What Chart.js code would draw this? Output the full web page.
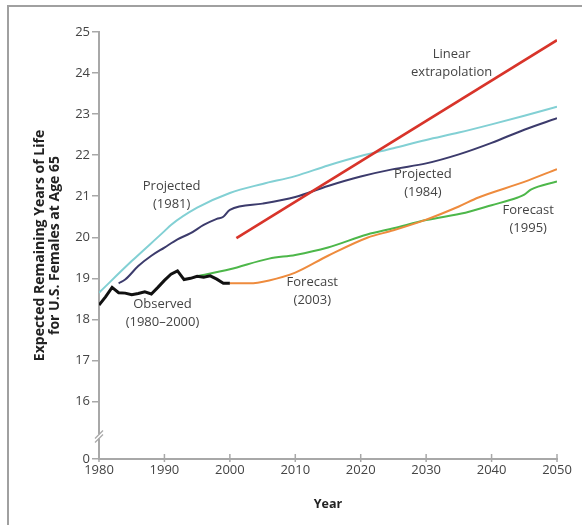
<!DOCTYPE html>
<html>
<head>
<meta charset="utf-8">
<script src="https://cdn.jsdelivr.net/npm/chart.js@4"></script>
<style>
  html, body { margin: 0; padding: 0; background: #fff; }
  #wrap { position: relative; width: 582px; height: 525px; }
  #frame { position: absolute; left: 7px; top: 5px; right: 0; bottom: 0;
           border-top: 2px solid #a0a0a0; border-left: 2px solid #a0a0a0; }
  #chart { position: absolute; left: 0; top: 0; }
</style>
</head>
<body>
<div id="wrap">
  <div id="frame"></div>
  <canvas id="chart" width="582" height="525"></canvas>
</div>
<script>
// Observed 1980-2000
const observedYears = [1980, 1981, 1982, 1983, 1984, 1985, 1986, 1987, 1988, 1989, 1990,
                       1991, 1992, 1993, 1994, 1995, 1996, 1997, 1998, 1999, 2000];
const observedValues = [18.35, 18.55, 18.78, 18.65, 18.64, 18.6, 18.63, 18.67, 18.62, 18.78, 18.95,
                        19.1, 19.18, 18.97, 19.0, 19.05, 19.03, 19.06, 18.98, 18.88, 18.88];

// Projected (1981)
const proj1981Years = [1980, 1985, 1990, 1991, 1995, 2000, 2005, 2010, 2015, 2020, 2025, 2030, 2035, 2040, 2045, 2050];
const proj1981Values = [18.65, 19.42, 20.15, 20.3, 20.72, 21.08, 21.3, 21.49, 21.75, 21.98, 22.17, 22.37, 22.55, 22.75, 22.96, 23.18];

// Projected (1984)
const proj1984Years = [1983, 1984, 1986, 1988, 1990, 1992, 1994, 1996, 1998, 1999, 2000, 2005, 2010, 2015, 2020, 2025, 2030, 2035, 2040, 2045, 2050];
const proj1984Values = [18.88, 18.97, 19.3, 19.55, 19.75, 19.95, 20.1, 20.3, 20.45, 20.5, 20.67, 20.82, 20.98, 21.25, 21.48, 21.66, 21.8, 22.02, 22.3, 22.62, 22.9];

// Linear extrapolation
const linearYears = [2001, 2050];
const linearValues = [19.98, 24.8];

// Forecast (1995)
const fc1995Years = [1995, 2000, 2006, 2010, 2015, 2021, 2025, 2030, 2036, 2040, 2044, 2045, 2046, 2050];
const fc1995Values = [19.05, 19.22, 19.48, 19.57, 19.75, 20.07, 20.22, 20.42, 20.6, 20.78, 20.97, 21.04, 21.16, 21.36];

// Forecast (2003)
const fc2003Years = [2000, 2003, 2006, 2010, 2015, 2021, 2025, 2030, 2035, 2038, 2045, 2050];
const fc2003Values = [18.88, 18.88, 18.95, 19.14, 19.55, 19.99, 20.17, 20.43, 20.75, 20.97, 21.35, 21.66];

// Axes
const xTickValues = [1980, 1990, 2000, 2010, 2020, 2030, 2040, 2050];
const yTickValues = [16, 17, 18, 19, 20, 21, 22, 23, 24, 25];
const yBreakValue = 14.6;   // plotted spot of the "0" tick below the axis break

// Line labels: text lines and anchor in data units (year, value)
const notes = [
  { text: ['Linear', 'extrapolation'], year: 2033.9, value: 24.23 },
  { text: ['Projected', '(1981)'], year: 1991.1, value: 21.02 },
  { text: ['Projected', '(1984)'], year: 2029.5, value: 21.32 },
  { text: ['Forecast', '(1995)'], year: 2045.6, value: 20.45 },
  { text: ['Forecast', '(2003)'], year: 2012.6, value: 18.68 },
  { text: ['Observed', '(1980\u20132000)'], year: 1989.7, value: 18.14 }
];

const axisColor = '#a8a8a8';
const textColor = '#444';
const fontFamily = '"Open Sans", "Noto Sans", sans-serif';

function series(years, values) {
  return years.map((y, i) => ({ x: y, y: values[i] }));
}

function line(label, years, values, color, width, smooth) {
  return {
    label: label,
    data: series(years, values),
    borderColor: color,
    borderWidth: width,
    pointRadius: 0,
    fill: false,
    cubicInterpolationMode: smooth ? 'monotone' : 'default',
    tension: 0
  };
}

const notesPlugin = {
  id: 'notes',
  afterDatasetsDraw(chart) {
    const ctx = chart.ctx;
    const xs = chart.scales.x, ys = chart.scales.y;
    ctx.save();
    ctx.fillStyle = textColor;
    ctx.font = '13px ' + fontFamily;
    ctx.textAlign = 'center';
    ctx.textBaseline = 'middle';
    notes.forEach(n => {
      const cx = xs.getPixelForValue(n.year);
      const cy = ys.getPixelForValue(n.value);
      const lh = 18;
      const top = cy - (n.text.length - 1) * lh / 2;
      n.text.forEach((t, i) => ctx.fillText(t, cx, top + i * lh));
    });
    ctx.restore();
  }
};

// axis break marks and x ticks crossing the axis
const axisPlugin = {
  id: 'axisDecor',
  afterDraw(chart) {
    const ctx = chart.ctx;
    const xs = chart.scales.x, ys = chart.scales.y;
    const ax = chart.chartArea.left;
    const by = ys.getPixelForValue(15.15);
    ctx.save();
    ctx.fillStyle = '#fff';
    ctx.fillRect(ax - 3, by - 2, 6, 4);
    ctx.strokeStyle = axisColor;
    ctx.lineWidth = 1.3;
    [-2, 2].forEach(d => {
      ctx.beginPath();
      ctx.moveTo(ax - 4, by + d + 4);
      ctx.lineTo(ax + 4, by + d - 4);
      ctx.stroke();
    });
    ctx.lineWidth = 1.5;
    const bottom = chart.chartArea.bottom;
    xTickValues.forEach(v => {
      const px = xs.getPixelForValue(v);
      ctx.beginPath();
      ctx.moveTo(px, bottom - 5);
      ctx.lineTo(px, bottom + 3);
      ctx.stroke();
    });
    ctx.restore();
  }
};

const ctx = document.getElementById('chart').getContext('2d');
new Chart(ctx, {
  type: 'line',
  data: {
    datasets: [
      line('Observed (1980\u20132000)', observedYears, observedValues, '#111111', 3, false),
      line('Linear extrapolation', linearYears, linearValues, '#d8342a', 2.6, false),
      line('Forecast (2003)', fc2003Years, fc2003Values, '#ee8b3d', 2, true),
      line('Forecast (1995)', fc1995Years, fc1995Values, '#4db74a', 2, true),
      line('Projected (1984)', proj1984Years, proj1984Values, '#3c3b6c', 2, true),
      line('Projected (1981)', proj1981Years, proj1981Values, '#82d0d4', 2, true)
    ]
  },
  options: {
    responsive: false,
    animation: false,
    layout: { padding: { top: 32, right: 25, bottom: 13, left: 32 } },
    plugins: {
      legend: { display: false },
      tooltip: { enabled: false }
    },
    scales: {
      x: {
        type: 'linear',
        min: 1980,
        max: 2050,
        afterBuildTicks: scale => { scale.ticks = xTickValues.map(v => ({ value: v })); },
        afterFit: scale => { scale.height = 53; },
        border: { color: axisColor, width: 2 },
        grid: { drawOnChartArea: false, drawTicks: false },
        ticks: {
          color: textColor,
          padding: 3,
          maxRotation: 0,
          font: { family: fontFamily, size: 13 },
          callback: v => String(v)
        },
        title: {
          display: true,
          text: 'Year',
          color: '#222',
          padding: { top: 4, bottom: 0 },
          font: { family: fontFamily, size: 12.5, weight: 'bold' }
        }
      },
      y: {
        type: 'linear',
        min: yBreakValue,
        max: 25,
        afterBuildTicks: scale => {
          scale.ticks = [yBreakValue].concat(yTickValues).map(v => ({ value: v }));
        },
        afterFit: scale => { scale.width = 67; },
        border: { color: axisColor, width: 2 },
        grid: { drawOnChartArea: false, drawTicks: true, tickLength: 7, color: axisColor, lineWidth: 1.5 },
        ticks: {
          color: textColor,
          padding: 2,
          font: { family: fontFamily, size: 13 },
          callback: v => (v === yBreakValue ? '0' : String(v))
        },
        title: {
          display: true,
          text: ['Expected Remaining Years of Life', 'for U.S. Females at Age 65'],
          color: '#222',
          padding: { top: 0, bottom: 0 },
          font: { family: fontFamily, size: 14, weight: 'bold', lineHeight: 1.1 }
        }
      }
    }
  },
  plugins: [notesPlugin, axisPlugin]
});
</script>
</body>
</html>
